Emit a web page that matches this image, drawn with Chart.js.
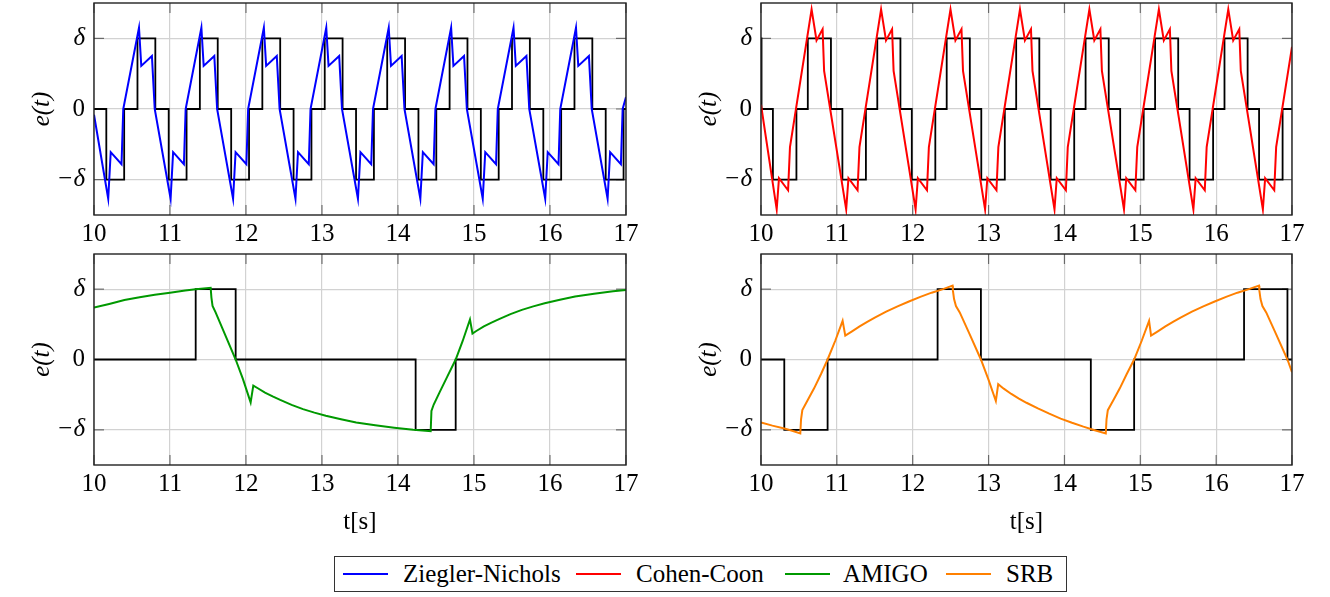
<!DOCTYPE html>
<html><head><meta charset="utf-8">
<script src="https://cdn.jsdelivr.net/npm/chart.js@4"></script>
<style>
html,body{margin:0;padding:0;background:#fff;}
body{width:1330px;height:597px;position:relative;overflow:hidden;font-family:"Liberation Serif","Times New Roman",serif;}
canvas{position:absolute;}
#legend{position:absolute;left:334px;top:556px;width:731px;height:34px;border:1px solid #333;background:#fff;}
.ln{position:absolute;top:16px;height:2px;width:45px;}
.tx{position:absolute;top:0;font-size:25px;line-height:34px;color:#000;white-space:nowrap;}
</style>
</head><body>
<canvas id="c1" width="640" height="250" style="left:0px;top:0px"></canvas>
<canvas id="c2" width="640" height="250" style="left:667px;top:0px"></canvas>
<canvas id="c3" width="640" height="287" style="left:0px;top:250px"></canvas>
<canvas id="c4" width="640" height="287" style="left:667px;top:250px"></canvas>
<div id="legend"></div>
<script>
// ---------- data ----------
const xTicks = [10, 11, 12, 13, 14, 15, 16, 17];
const yTickValues = [-1, 0, 1];
const yTickLabels = ['\u2212\u03B4', '0', '\u03B4'];
const seriesNames = ['Ziegler-Nichols', 'Cohen-Coon', 'AMIGO', 'SRB'];
const seriesColors = ['#0000ff', '#ff0000', '#009900', '#ff8000'];
const yTitle = 'e(t)';
const xTitle = 't[s]';

// Ziegler-Nichols error
const znT = [10,
 10.187,10.220,10.362,10.385,10.592,10.622,10.762,10.799,
 11.008,11.041,11.183,11.206,11.413,11.443,11.583,11.620,
 11.830,11.863,12.005,12.028,12.235,12.265,12.405,12.442,
 12.651,12.684,12.826,12.849,13.056,13.086,13.226,13.263,
 13.473,13.506,13.648,13.671,13.878,13.908,14.048,14.085,
 14.294,14.327,14.469,14.492,14.699,14.729,14.869,14.906,
 15.115,15.148,15.290,15.313,15.520,15.550,15.690,15.727,
 15.937,15.970,16.112,16.135,16.342,16.372,16.512,16.549,
 16.758,16.791,16.933,16.956,
 17];
const znE = [-0.08,
 -1.27,-0.61,-0.78,0,1.15,0.61,0.75,0,
 -1.27,-0.61,-0.78,0,1.15,0.61,0.75,0,
 -1.27,-0.61,-0.78,0,1.15,0.61,0.75,0,
 -1.27,-0.61,-0.78,0,1.15,0.61,0.75,0,
 -1.27,-0.61,-0.78,0,1.15,0.61,0.75,0,
 -1.27,-0.61,-0.78,0,1.15,0.61,0.75,0,
 -1.27,-0.61,-0.78,0,1.15,0.61,0.75,0,
 -1.27,-0.61,-0.78,0,1.15,0.61,0.75,0,
 -1.27,-0.61,-0.78,0,
 0.17];
const znRelayT = [10,
 10.162,10.397,10.572,10.807, 10.983,11.218,11.393,11.628,
 11.805,12.040,12.215,12.450, 12.626,12.861,13.036,13.271,
 13.448,13.683,13.858,14.093, 14.269,14.504,14.679,14.914,
 15.090,15.325,15.500,15.735, 15.912,16.147,16.322,16.557,
 16.733,16.968, 17];
const znRelayU = [0,
 -1,0,1,0, -1,0,1,0,
 -1,0,1,0, -1,0,1,0,
 -1,0,1,0, -1,0,1,0,
 -1,0,1,0, -1,0,1,0,
 -1,0, 0];

// Cohen-Coon error
const ccT = [10,
 10.207,10.237,10.357,10.382,10.667,10.732,10.812,10.832,
 11.123,11.153,11.273,11.298,11.583,11.648,11.728,11.748,
 12.038,12.068,12.188,12.213,12.498,12.563,12.643,12.663,
 12.954,12.984,13.104,13.129,13.414,13.479,13.559,13.579,
 13.869,13.899,14.019,14.044,14.329,14.394,14.474,14.494,
 14.785,14.815,14.935,14.960,15.245,15.310,15.390,15.410,
 15.700,15.730,15.850,15.875,16.160,16.225,16.305,16.325,
 16.616,16.646,16.766,16.791,
 17];
const ccE = [0.06,
 -1.42,-0.98,-1.15,-0.54,1.41,0.97,1.13,0.54,
 -1.42,-0.98,-1.15,-0.54,1.41,0.97,1.13,0.54,
 -1.42,-0.98,-1.15,-0.54,1.41,0.97,1.13,0.54,
 -1.42,-0.98,-1.15,-0.54,1.41,0.97,1.13,0.54,
 -1.42,-0.98,-1.15,-0.54,1.41,0.97,1.13,0.54,
 -1.42,-0.98,-1.15,-0.54,1.41,0.97,1.13,0.54,
 -1.42,-0.98,-1.15,-0.54,1.41,0.97,1.13,0.54,
 -1.42,-0.98,-1.15,-0.54,
 0.88];
const ccRelayT = [10, 10.007,
 10.157,10.467,10.617,10.922, 11.073,11.383,11.533,11.838,
 11.988,12.298,12.448,12.753, 12.904,13.214,13.364,13.669,
 13.819,14.129,14.279,14.584, 14.735,15.045,15.195,15.500,
 15.650,15.960,16.110,16.415,
 16.566,16.876, 17];
const ccRelayU = [1, 0,
 -1,0,1,0, -1,0,1,0,
 -1,0,1,0, -1,0,1,0,
 -1,0,1,0, -1,0,1,0,
 -1,0,1,0,
 -1,0, 0];

// AMIGO error
const amT = [10,10.2,10.4,10.6,10.8,11.0,11.2,11.338,11.535,
 11.545,11.56,11.6,11.73,11.864,11.96,12.061,
 12.096,12.15,12.25,12.35,12.45,12.6,12.75,12.9,13.05,13.25,13.45,13.7,13.95,14.2,14.43,
 14.44,14.47,14.55,14.65,14.759,14.85,14.947,
 14.98,15.03,15.13,15.23,15.33,15.48,15.63,15.78,15.93,16.13,16.33,16.58,16.83,17.0];
const amE = [0.74,0.79,0.845,0.885,0.92,0.95,0.98,1.0,1.02,
 0.88,0.76,0.67,0.34,0,-0.28,-0.61,
 -0.37,-0.405,-0.47,-0.525,-0.575,-0.645,-0.705,-0.755,-0.80,-0.85,-0.895,-0.935,-0.97,-1.0,-1.02,
 -0.73,-0.64,-0.46,-0.24,0,0.26,0.57,
 0.37,0.405,0.47,0.525,0.575,0.645,0.705,0.755,0.80,0.85,0.895,0.935,0.97,0.99];
const amRelayT = [10, 11.338, 11.864, 14.232, 14.759, 17];
const amRelayU = [0, 1, 0, -1, 0, 0];

// SRB error
const srT = [10,10.15,10.307,10.4,10.518,10.528,10.545,10.62,10.70,10.79,10.878,10.98,11.076,
 11.111,11.2,11.3,11.4,11.5,11.65,11.8,11.95,12.1,12.25,12.4,12.525,
 12.53,12.545,12.57,12.62,12.75,12.899,13.0,13.096,
 13.127,13.2,13.3,13.4,13.5,13.65,13.8,13.95,14.1,14.25,14.4,14.545,
 14.555,14.572,14.65,14.73,14.82,14.919,15.02,15.116,
 15.142,15.231,15.331,15.431,15.531,15.681,15.831,15.981,16.131,16.281,16.431,16.565,
 16.57,16.585,16.61,16.66,16.79,16.94,17.0];
const srE = [-0.895,-0.94,-0.98,-1.01,-1.05,-0.85,-0.72,-0.57,-0.41,-0.21,0,0.27,0.55,
 0.34,0.40,0.47,0.535,0.595,0.68,0.755,0.825,0.89,0.95,1.0,1.05,
 0.98,0.86,0.76,0.67,0.36,0,-0.29,-0.59,
 -0.35,-0.415,-0.49,-0.555,-0.615,-0.695,-0.77,-0.84,-0.90,-0.955,-1.005,-1.05,
 -0.85,-0.72,-0.57,-0.41,-0.21,0,0.27,0.55,
 0.34,0.40,0.47,0.535,0.595,0.68,0.755,0.825,0.89,0.95,1.0,1.05,
 0.98,0.86,0.76,0.67,0.36,0,-0.18];
const srRelayT = [10, 10.307, 10.878, 12.328, 12.899, 14.348, 14.919, 16.368, 16.94, 17];
const srRelayU = [0, -1, 0, 1, 0, -1, 0, 1, 0, 0];

// ---------- drawing ----------
const FONT = '"Liberation Serif","Times New Roman",serif';
function pts(t, v) { return t.map((x, i) => ({ x: x, y: v[i] })); }

const framePlugin = {
  id: 'frame',
  beforeDatasetsDraw(chart) {
    const { ctx, chartArea: a, scales } = chart;
    const L = 10;
    ctx.save();
    ctx.strokeStyle = 'rgba(0,0,0,0.5)';
    ctx.lineWidth = 1.2;
    ctx.beginPath();
    scales.x.ticks.forEach(t => {
      const px = scales.x.getPixelForValue(t.value);
      ctx.moveTo(px, a.bottom); ctx.lineTo(px, a.bottom - L);
      ctx.moveTo(px, a.top); ctx.lineTo(px, a.top + L);
    });
    scales.y.ticks.forEach(t => {
      const py = scales.y.getPixelForValue(t.value);
      ctx.moveTo(a.left, py); ctx.lineTo(a.left + L, py);
      ctx.moveTo(a.right, py); ctx.lineTo(a.right - L, py);
    });
    ctx.stroke();
    ctx.restore();
  },
  afterDatasetsDraw(chart) {
    const { ctx, chartArea: a } = chart;
    ctx.save();
    ctx.strokeStyle = '#222';
    ctx.lineWidth = 1.4;
    ctx.strokeRect(a.left, a.top, a.right - a.left, a.bottom - a.top);
    ctx.restore();
  }
};

function makeChart(id, p) {
  return new Chart(document.getElementById(id), {
    type: 'line',
    data: {
      datasets: [
        { data: pts(p.t, p.e), borderColor: p.color, borderWidth: 2, pointRadius: 0, tension: 0, fill: false },
        { data: pts(p.rt, p.ru), borderColor: '#000', borderWidth: 1.8, pointRadius: 0, tension: 0, fill: false, stepped: true }
      ]
    },
    options: {
      responsive: false,
      animation: false,
      events: [],
      layout: { padding: { top: p.padTop, right: p.padRight, left: 0, bottom: 0 } },
      plugins: { legend: { display: false }, tooltip: { enabled: false } },
      scales: {
        x: {
          type: 'linear', min: 10, max: 17,
          afterBuildTicks: s => { s.ticks = xTicks.map(v => ({ value: v })); },
          ticks: { font: { family: FONT, size: 25 }, color: '#000', padding: 4, maxRotation: 0, autoSkip: false,
                   callback: v => String(v) },
          grid: { color: '#d2d2d2', lineWidth: 1.2, drawTicks: false },
          border: { display: false },
          title: { display: p.showXTitle, text: xTitle, color: '#000', font: { family: FONT, size: 25 }, padding: 0 },
          afterFit: s => { s.height = p.xh; s.paddingLeft = 0; s.paddingRight = 0; }
        },
        y: {
          type: 'linear', min: -1.5, max: 1.5,
          afterBuildTicks: s => { s.ticks = yTickValues.map(v => ({ value: v })); },
          ticks: {
            color: '#000', padding: 9,
            font: ctx => ({ family: FONT, size: 25, style: (ctx.tick && ctx.tick.value === 0) ? 'normal' : 'italic' }),
            callback: v => yTickLabels[yTickValues.indexOf(v)]
          },
          grid: { color: '#d2d2d2', lineWidth: 1.2, drawTicks: false },
          border: { display: false },
          title: { display: true, text: yTitle, color: '#000', font: { family: FONT, size: 25, style: 'italic' },
                   padding: { top: 27, bottom: 0 } },
          afterFit: s => { s.width = 94; s.paddingTop = 0; s.paddingBottom = 0; }
        }
      }
    },
    plugins: [framePlugin]
  });
}

makeChart('c1', { t: znT, e: znE, rt: znRelayT, ru: znRelayU, color: seriesColors[0], padTop: 3, padRight: 14, xh: 35, showXTitle: false });
makeChart('c2', { t: ccT, e: ccE, rt: ccRelayT, ru: ccRelayU, color: seriesColors[1], padTop: 3, padRight: 15, xh: 35, showXTitle: false });
makeChart('c3', { t: amT, e: amE, rt: amRelayT, ru: amRelayU, color: seriesColors[2], padTop: 4, padRight: 14, xh: 72, showXTitle: true });
makeChart('c4', { t: srT, e: srE, rt: srRelayT, ru: srRelayU, color: seriesColors[3], padTop: 4, padRight: 15, xh: 72, showXTitle: true });

// legend
const legendPos = [[8, 68], [241, 301], [450, 508], [611, 671]];
const lg = document.getElementById('legend');
seriesNames.forEach((name, i) => {
  const ln = document.createElement('div');
  ln.className = 'ln';
  ln.style.left = legendPos[i][0] + 'px';
  ln.style.background = seriesColors[i];
  lg.appendChild(ln);
  const tx = document.createElement('div');
  tx.className = 'tx';
  tx.style.left = legendPos[i][1] + 'px';
  tx.textContent = name;
  lg.appendChild(tx);
});
</script>
</body></html>
